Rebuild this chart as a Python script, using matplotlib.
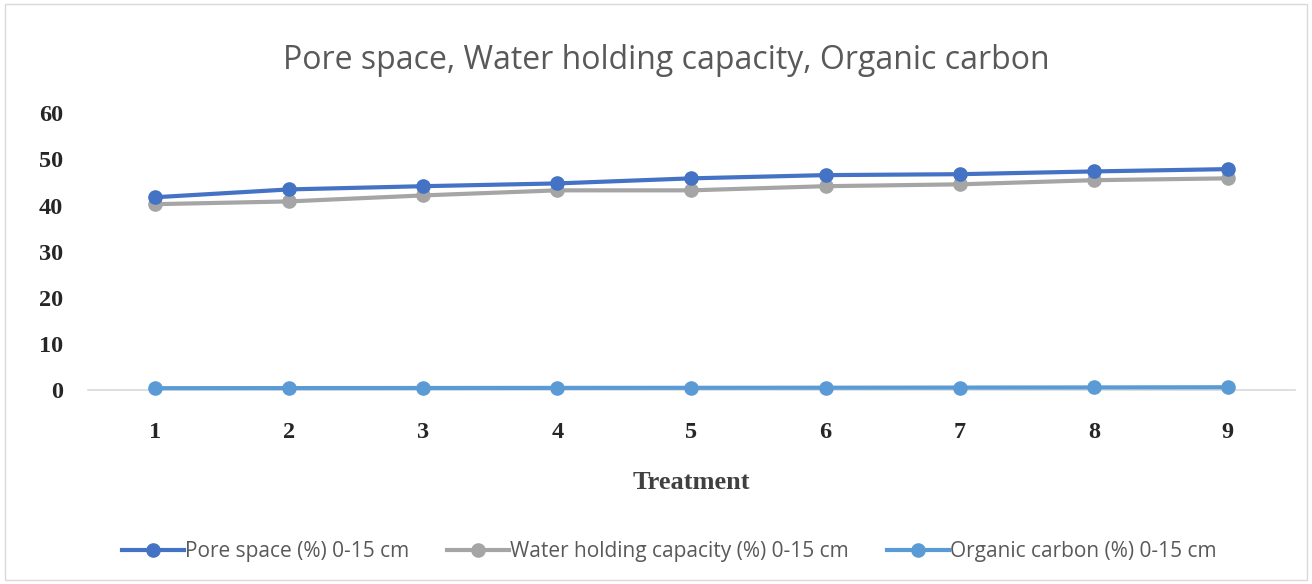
import numpy as np
import matplotlib.pyplot as plt
from matplotlib.patches import Rectangle

# Data
treatment = [1, 2, 3, 4, 5, 6, 7, 8, 9]
pore_space = [41.8, 43.5, 44.2, 44.8, 45.9, 46.6, 46.8, 47.4, 47.9]
water_holding = [40.3, 40.9, 42.2, 43.3, 43.3, 44.2, 44.6, 45.5, 45.9]
organic_carbon = [0.42, 0.44, 0.46, 0.48, 0.50, 0.52, 0.55, 0.58, 0.62]
y_ticks = [0, 10, 20, 30, 40, 50, 60]

fig = plt.figure(figsize=(13.12, 5.84), dpi=100)
ax = fig.add_axes([0.067, 0.332, 0.92, 0.474])

# chart border
fig.patches.append(Rectangle((0.004, 0.006), 0.992, 0.988, transform=fig.transFigure,
                             fill=False, edgecolor='#d9d9d9', linewidth=1))

lw = 3.0
ms = 9.5
ax.plot(treatment, pore_space, color='#4472c4', lw=lw, marker='o', ms=ms,
        label='Pore space (%) 0-15 cm', zorder=3)
ax.plot(treatment, water_holding, color='#a5a5a5', lw=lw, marker='o', ms=ms,
        label='Water holding capacity (%) 0-15 cm', zorder=2)
ax.plot(treatment, organic_carbon, color='#5b9bd5', lw=lw, marker='o', ms=ms,
        label='Organic carbon (%) 0-15 cm', zorder=4, clip_on=False)

ax.set_xlim(0.5, 9.5)
ax.set_ylim(0, 60)
ax.set_yticks(y_ticks)
ax.set_xticks(treatment)
for s in ['top', 'right', 'left']:
    ax.spines[s].set_visible(False)
ax.spines['bottom'].set_color('#d9d9d9')
ax.spines['bottom'].set_linewidth(1.2)
ax.tick_params(length=0)
ax.tick_params(axis='x', pad=23)
ax.tick_params(axis='y', pad=18)
for lab in ax.get_xticklabels() + ax.get_yticklabels():
    lab.set_fontfamily('Liberation Serif')
    lab.set_fontweight('bold')
    lab.set_fontsize(17.5)
    lab.set_color('#262626')

ax.set_xlabel('Treatment', fontfamily='Liberation Serif', fontweight='bold',
              fontsize=19, color='#404040', labelpad=20)

fig.text(0.508, 0.897, 'Pore space, Water holding capacity, Organic carbon',
         ha='center', va='center', fontsize=23, color='#595959', fontfamily='Open Sans')

leg = fig.legend(loc='center', bbox_to_anchor=(0.51, 0.056), ncol=3, frameon=False,
                 handlelength=3.0, handletextpad=0.05, columnspacing=1.8,
                 prop={'family': 'Open Sans', 'size': 15})
for t in leg.get_texts():
    t.set_color('#595959')

fig.savefig('out.png', dpi=100)
